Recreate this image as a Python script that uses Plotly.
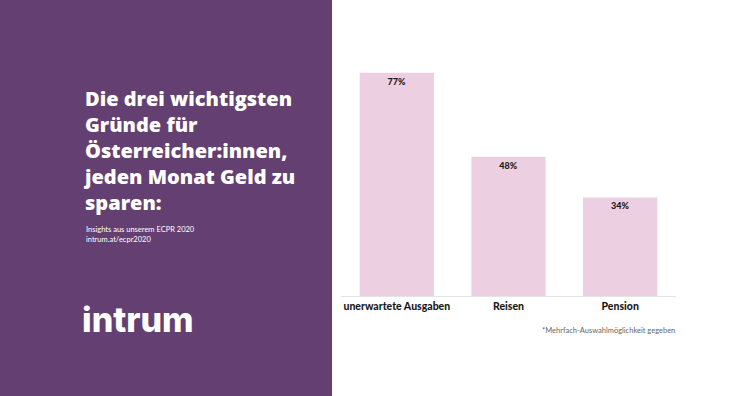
import plotly.graph_objects as go

categories = ["unerwartete Ausgaben", "Reisen", "Pension"]
values = [77, 48, 34]
labels = ["77%", "48%", "34%"]

W, H = 748, 396
L, R, T, B = 341, 72, 64, 100
pw, ph = W - L - R, H - T - B

def px(x):
    return (x - L) / pw

def py(y):
    return (H - B - y) / ph

PURPLE = "#643f72"
PINK = "#ecd0e2"

fig = go.Figure(go.Bar(
    x=categories, y=values, text=labels,
    textposition="inside", insidetextanchor="end",
    textfont=dict(family="Lato", size=9, color="#1a1a1a", weight=900),
    marker=dict(color=PINK, line=dict(width=0)),
    hoverinfo="skip",
))

fig.update_layout(
    width=W, height=H,
    margin=dict(l=L, r=R, t=T, b=B),
    paper_bgcolor="white", plot_bgcolor="white",
    bargap=0.335, showlegend=False,
    xaxis=dict(showgrid=False, showline=True, linecolor="#e4e4e4", linewidth=1,
               ticks="", tickfont=dict(family="Lato", size=10.5, color="#1a1a1a", weight=900)),
    yaxis=dict(range=[0, 80], visible=False),
    shapes=[dict(type="rect", xref="paper", yref="paper",
                 x0=px(0), x1=px(332), y0=py(H), y1=py(0),
                 fillcolor=PURPLE, line=dict(width=0), layer="below")],
)

title_lines = ["Die drei wichtigsten", "Gründe für", "Österreicher:innen,",
               "jeden Monat Geld zu", "sparen:"]
fig.add_annotation(text="<br>".join(title_lines), xref="paper", yref="paper",
                   x=px(81), y=py(83), xanchor="left", yanchor="top", align="left",
                   showarrow=False,
                   font=dict(family="Open Sans", size=20, color="white", weight=800))
fig.add_annotation(text="Insights aus unserem ECPR 2020<br>intrum.at/ecpr2020",
                   xref="paper", yref="paper", x=px(84), y=py(223),
                   xanchor="left", yanchor="top", align="left", showarrow=False,
                   font=dict(family="Lato", size=7.5, color="white"))
fig.add_annotation(text="intrum", xref="paper", yref="paper", x=px(80), y=py(319),
                   xanchor="left", yanchor="middle", showarrow=False,
                   font=dict(family="Inter", size=34, color="white", weight=800))
fig.add_annotation(text="*Mehrfach-Auswahlmöglichkeit gegeben", xref="paper", yref="paper",
                   x=px(677), y=py(330), xanchor="right", yanchor="middle", showarrow=False,
                   font=dict(family="Lato", size=7.5, color="#666666"))

fig.write_html("out.html", config={"displayModeBar": False},
               post_script="document.body.style.margin='0';document.body.style.padding='0';")
